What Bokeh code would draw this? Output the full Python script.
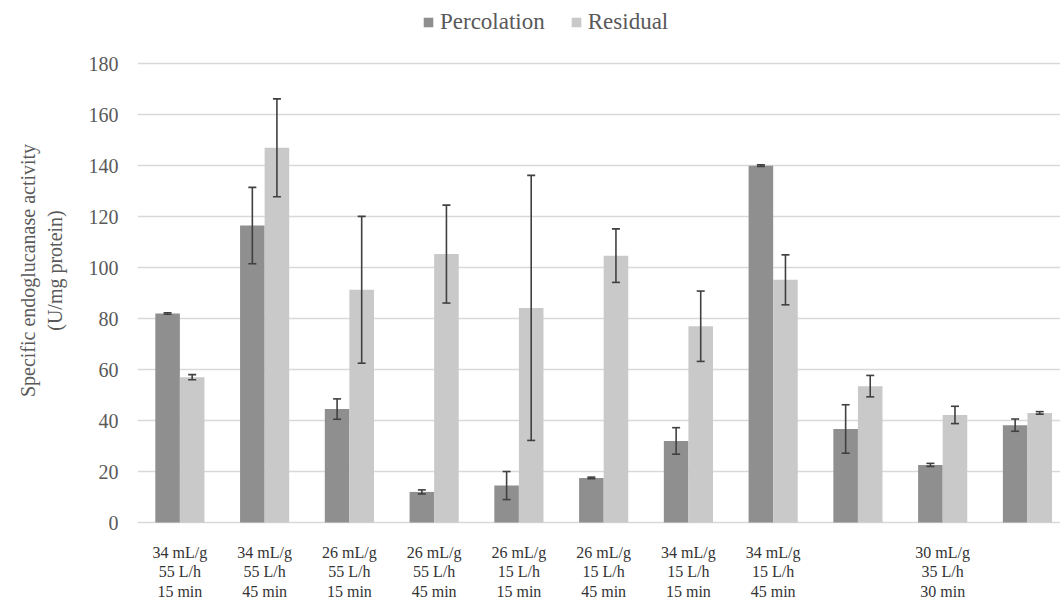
from bokeh.plotting import figure
from bokeh.models import ColumnDataSource, Whisker, TeeHead, Legend, FixedTicker, Range1d
from bokeh.embed import file_html
from bokeh.resources import INLINE

categories = [
    "34 mL/g\n55 L/h\n15 min",
    "34 mL/g\n55 L/h\n45 min",
    "26 mL/g\n55 L/h\n15 min",
    "26 mL/g\n55 L/h\n45 min",
    "26 mL/g\n15 L/h\n15 min",
    "26 mL/g\n15 L/h\n45 min",
    "34 mL/g\n15 L/h\n15 min",
    "34 mL/g\n15 L/h\n45 min",
    "",
    "30 mL/g\n35 L/h\n30 min",
    "",
]
percolation = [82, 116.5, 44.5, 12, 14.5, 17.5, 32, 140, 36.7, 22.6, 38.2]
percolation_err = [0.3, 15, 4, 0.8, 5.5, 0.3, 5.2, 0.3, 9.5, 0.6, 2.4]
residual = [57, 147, 91.3, 105.3, 84.2, 104.7, 77, 95.2, 53.5, 42.2, 43]
residual_err = [1, 19.2, 28.8, 19.2, 52, 10.5, 13.8, 9.8, 4.2, 3.4, 0.5]
y_ticks = [0, 20, 40, 60, 80, 100, 120, 140, 160, 180]

FONT = "Liberation Serif"
TXT = "#595959"
BW = 0.29

idx = list(range(len(categories)))
xp = [i - BW / 2 for i in idx]
xr = [i + BW / 2 for i in idx]

src_p = ColumnDataSource(dict(x=xp, top=percolation,
                              upper=[v + e for v, e in zip(percolation, percolation_err)],
                              lower=[v - e for v, e in zip(percolation, percolation_err)]))
src_r = ColumnDataSource(dict(x=xr, top=residual,
                              upper=[v + e for v, e in zip(residual, residual_err)],
                              lower=[v - e for v, e in zip(residual, residual_err)]))

p = figure(width=1060, height=604, output_backend="svg", toolbar_location=None,
           x_range=Range1d(-0.5, 10.39), y_range=Range1d(-7.06, 204.8),
           min_border_left=137, min_border_right=0, min_border_top=0, min_border_bottom=64)
p.outline_line_color = None

r1 = p.vbar(x="x", top="top", bottom=0, width=BW, source=src_p, color="#8f8f8f", line_color=None)
r2 = p.vbar(x="x", top="top", bottom=0, width=BW, source=src_r, color="#c9c9c9", line_color=None)

for src in (src_p, src_r):
    w = Whisker(base="x", upper="upper", lower="lower", source=src, level="annotation",
                line_color="#404040", line_width=1.6,
                upper_head=TeeHead(size=8, line_color="#404040", line_width=1.6),
                lower_head=TeeHead(size=8, line_color="#404040", line_width=1.6))
    p.add_layout(w)

# x axis: category labels under each group
p.xaxis.ticker = FixedTicker(ticks=idx)
p.xaxis.major_label_overrides = {i: lab for i, lab in enumerate(categories)}
p.xaxis.axis_line_color = None
p.xaxis.major_tick_line_color = None
p.xaxis.minor_tick_line_color = None
p.xaxis.major_tick_out = 0
p.xaxis.major_tick_in = 0
p.xaxis.major_label_standoff = 3
p.xaxis.major_label_text_font = FONT
p.xaxis.major_label_text_font_size = "16px"
p.xaxis.major_label_text_color = "#333333"
p.xaxis.major_label_text_line_height = 1.15

p.xgrid.grid_line_color = None
p.ygrid.ticker = FixedTicker(ticks=y_ticks)
p.ygrid.grid_line_color = "#d9d9d9"
p.ygrid.grid_line_width = 1.5

p.yaxis.ticker = FixedTicker(ticks=y_ticks)
p.yaxis.axis_line_color = None
p.yaxis.major_tick_line_color = None
p.yaxis.minor_tick_line_color = None
p.yaxis.major_tick_out = 0
p.yaxis.major_tick_in = 0
p.yaxis.major_label_standoff = 19
p.yaxis.major_label_text_font = FONT
p.yaxis.major_label_text_font_size = "20px"
p.yaxis.major_label_text_color = TXT
p.yaxis.axis_label = "Specific endoglucanase activity\n(U/mg protein)"
p.yaxis.axis_label_text_font = FONT
p.yaxis.axis_label_text_font_size = "20px"
p.yaxis.axis_label_text_font_style = "normal"
p.yaxis.axis_label_text_color = TXT
p.yaxis.axis_label_standoff = 20

legend = Legend(items=[("Percolation", [r1]), ("Residual", [r2])], orientation="horizontal",
                location=(285, 505), border_line_color=None, background_fill_alpha=0,
                label_text_font=FONT, label_text_font_size="23px", label_text_color=TXT,
                glyph_width=12, glyph_height=12, label_standoff=6, spacing=25,
                padding=0, margin=0, label_height=24)
p.add_layout(legend, "center")

open("out.html", "w").write(file_html(p, INLINE))
